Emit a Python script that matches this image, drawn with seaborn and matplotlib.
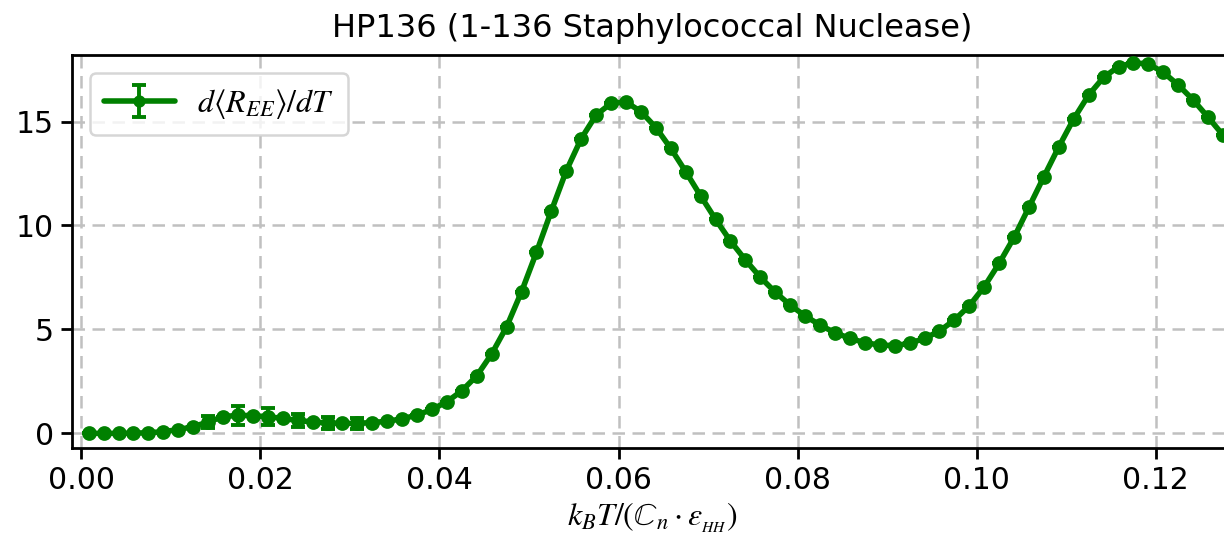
import numpy as np
import matplotlib
matplotlib.use("Agg")
import matplotlib.pyplot as plt
import seaborn as sns
from matplotlib.container import ErrorbarContainer

# ---- data ----
temperature = [
    0.00083, 0.00250, 0.00417, 0.00583, 0.00750, 0.00917, 0.01083, 0.01250, 0.01417, 0.01583,
    0.01750, 0.01917, 0.02083, 0.02250, 0.02417, 0.02583, 0.02750, 0.02917, 0.03083, 0.03250,
    0.03417, 0.03583, 0.03750, 0.03917, 0.04083, 0.04250, 0.04417, 0.04583, 0.04750, 0.04917,
    0.05083, 0.05250, 0.05417, 0.05583, 0.05750, 0.05917, 0.06083, 0.06250, 0.06417, 0.06583,
    0.06750, 0.06917, 0.07083, 0.07250, 0.07417, 0.07583, 0.07750, 0.07917, 0.08083, 0.08250,
    0.08417, 0.08583, 0.08750, 0.08917, 0.09083, 0.09250, 0.09417, 0.09583, 0.09750, 0.09917,
    0.10083, 0.10250, 0.10417, 0.10583, 0.10750, 0.10917, 0.11083, 0.11250, 0.11417, 0.11583,
    0.11750, 0.11917, 0.12083, 0.12250, 0.12417, 0.12583, 0.12750,
]
dree_dt = [
    0.00, 0.00, 0.00, 0.01, 0.03, 0.08, 0.18, 0.32, 0.55, 0.80,
    0.87, 0.85, 0.80, 0.72, 0.62, 0.55, 0.50, 0.48, 0.48, 0.52,
    0.58, 0.70, 0.88, 1.15, 1.52, 2.05, 2.77, 3.82, 5.13, 6.82,
    8.71, 10.71, 12.64, 14.18, 15.32, 15.88, 15.94, 15.48, 14.71, 13.71,
    12.59, 11.42, 10.30, 9.25, 8.34, 7.51, 6.79, 6.17, 5.65, 5.21,
    4.84, 4.57, 4.36, 4.25, 4.22, 4.33, 4.57, 4.92, 5.45, 6.14,
    7.05, 8.18, 9.43, 10.88, 12.35, 13.79, 15.13, 16.28, 17.13, 17.64,
    17.83, 17.77, 17.37, 16.76, 16.04, 15.21, 14.35,
]
dree_err = [
    0.00, 0.00, 0.00, 0.00, 0.00, 0.00, 0.00, 0.00, 0.30, 0.00,
    0.45, 0.00, 0.42, 0.00, 0.32, 0.00, 0.28, 0.00, 0.25, 0.00,
] + [0.00] * 57
xticks = [0.00, 0.02, 0.04, 0.06, 0.08, 0.10, 0.12]
yticks = [0, 5, 10, 15]

title = "HP136 (1-136 Staphylococcal Nuclease)"
xlabel = r"$k_BT/(\mathbb{C}_n\cdot\varepsilon_{_{HH}})$"
legend_label = r"$d\langle R_{EE}\rangle/dT$"

# ---- style ----
sns.set_theme(style="ticks")
plt.rcParams["font.family"] = ["DejaVu Sans"]
plt.rcParams["mathtext.fontset"] = "stix"
plt.rcParams["text.color"] = "black"
plt.rcParams["axes.labelcolor"] = "black"
plt.rcParams["xtick.color"] = "black"
plt.rcParams["ytick.color"] = "black"

fig = plt.figure(figsize=(12.24, 5.45), dpi=100)
ax = fig.add_axes([0.0591, 0.1774, 1.0065 - 0.0591, 0.899 - 0.1774])

green = "#008000"
sns.lineplot(x=temperature, y=dree_dt, ax=ax, color=green, linewidth=4.0,
             marker="o", markersize=9.0, markeredgewidth=1.6,
             markeredgecolor=green, legend=False, zorder=3)
line = ax.lines[-1]
line.set_markersize(9.0)
line.set_markeredgecolor(green)
line.set_markeredgewidth(1.6)
eb = ax.errorbar(temperature, dree_dt, yerr=dree_err, fmt="none", ecolor=green,
                 elinewidth=2.8, capsize=5, capthick=2.8, zorder=2)

ax.set_xlim(-0.001, 0.1285)
ax.set_ylim(-0.72, 18.2)
ax.set_xticks(xticks)
ax.set_xticklabels([f"{t:.2f}" for t in xticks])
ax.set_yticks(yticks)

ax.grid(True, linestyle=(0, (5, 3)), color="#c0c0c0", linewidth=1.8)
ax.set_axisbelow(True)
for s in ax.spines.values():
    s.set_linewidth(2.0)
    s.set_color("black")
ax.tick_params(axis="both", labelsize=21.5, length=8, width=2.0, colors="black", pad=5)

ax.set_title(title, fontsize=23, pad=13, color="black")
ax.set_xlabel(xlabel, fontsize=23, labelpad=4, color="black")

handle = ErrorbarContainer((line, eb.lines[1], eb.lines[2]), has_xerr=False,
                           has_yerr=True, label=legend_label)
leg = ax.legend([handle], [legend_label], loc="upper left", fontsize=23,
                frameon=True, fancybox=True, framealpha=0.8, edgecolor="#cccccc",
                borderpad=0.45, handlelength=2.2, handletextpad=0.7,
                bbox_to_anchor=(0.0, 1.0), borderaxespad=0.55, markerscale=0.8)
leg.get_frame().set_linewidth(1.8)

fig.savefig("out.png", dpi=100)
